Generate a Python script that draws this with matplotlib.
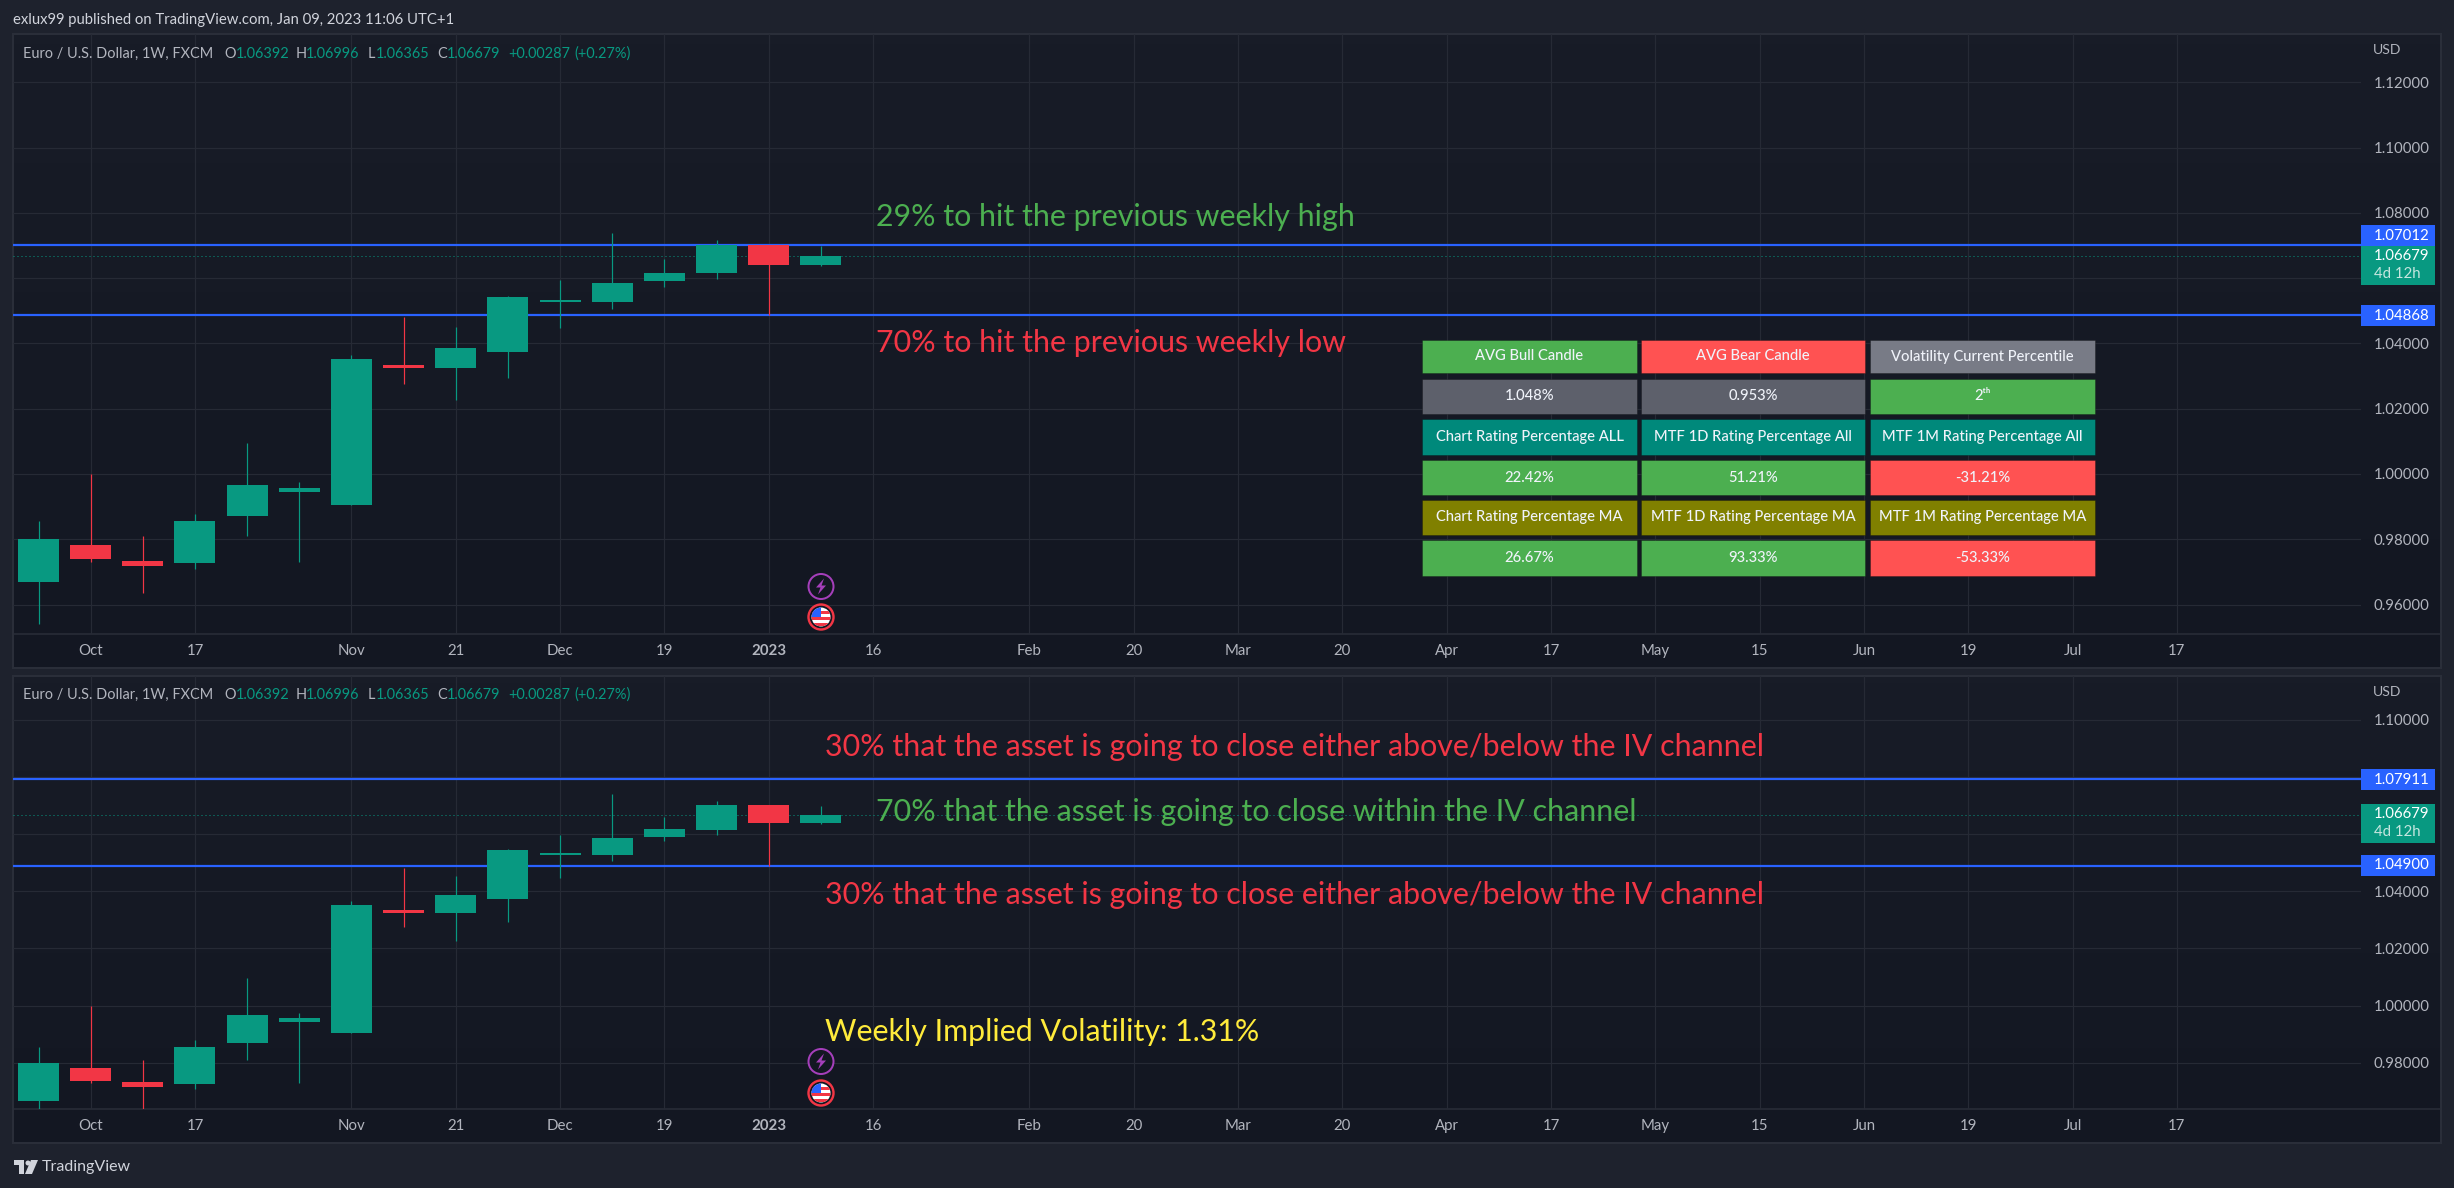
import numpy as np #For arrays
import matplotlib
matplotlib.use("Agg")
import matplotlib.pyplot as plt #For plotting
from matplotlib.patches import Rectangle, Circle, Polygon

W, H = 2454, 1188 #Output size in pixels
PX = 0.72 #Points per pixel at dpi 100

#Weekly candles
opens = [0.96684, 0.97835, 0.97347, 0.97260, 0.98699, 0.99437, 0.99037, 1.03353,
         1.03241, 1.03729, 1.05268, 1.05268, 1.05906, 1.06156, 1.07007, 1.06392]
closes = [0.98011, 0.97385, 0.97172, 0.98574, 0.99675, 0.99575, 1.03529, 1.03241,
          1.03866, 1.05430, 1.05343, 1.05868, 1.06169, 1.07007, 1.06394, 1.06679]
highs = [0.98574, 1.00000, 0.98111, 0.98786, 1.00963, 0.99762, 1.03654, 1.04817,
         1.04517, 1.05468, 1.05956, 1.07395, 1.06594, 1.07157, 1.07012, 1.06996]
lows = [0.95395, 0.97297, 0.96346, 0.97085, 0.98086, 0.97310, 0.99037, 1.02753,
        1.02265, 1.02928, 1.04467, 1.05068, 1.05743, 1.05968, 1.04868, 1.06365]

#Time axis
time_ticks = [1, 3, 6, 8, 10, 12, 14, 16, 19, 21, 23, 25, 27, 29, 31, 33, 35, 37, 39, 41]
time_labels = ["Oct", "17", "Nov", "21", "Dec", "19", "2023", "16", "Feb", "20", "Mar", "20",
               "Apr", "17", "May", "15", "Jun", "19", "Jul", "17"]

#Price axes, empty labels are hidden behind the price boxes
price_ticks_top = [0.96, 0.98, 1.00, 1.02, 1.04, 1.06, 1.08, 1.10, 1.12]
price_labels_top = ["0.96000", "0.98000", "1.00000", "1.02000", "1.04000", "", "1.08000", "1.10000", "1.12000"]
price_ticks_bot = [0.98, 1.00, 1.02, 1.04, 1.06, 1.08, 1.10]
price_labels_bot = ["0.98000", "1.00000", "1.02000", "1.04000", "", "", "1.10000"]
levels_top = [1.07012, 1.04868]
levels_bot = [1.07911, 1.04900]
last_price = 1.06679

#Table
table_text = [["AVG Bull Candle", "AVG Bear Candle", "Volatility Current Percentile"],
              ["1.048%", "0.953%", "2ᵗʰ"],
              ["Chart Rating Percentage ALL", "MTF 1D Rating Percentage All", "MTF 1M Rating Percentage All"],
              ["22.42%", "51.21%", "-31.21%"],
              ["Chart Rating Percentage MA", "MTF 1D Rating Percentage MA", "MTF 1M Rating Percentage MA"],
              ["26.67%", "93.33%", "-53.33%"]]
table_colors = [["#4caf50", "#ff5252", "#787b86"],
                ["#5d606b", "#5d606b", "#4caf50"],
                ["#00897b", "#00897b", "#00897b"],
                ["#4caf50", "#4caf50", "#ff5252"],
                ["#808000", "#808000", "#808000"],
                ["#4caf50", "#4caf50", "#ff5252"]]
col_edges = [(1422, 1637), (1641, 1865), (1870, 2095)]
row_edges = [(340, 373), (379, 414), (419, 455), (460, 495), (500, 535), (540, 576)]

#Colours
BG = "#1e222d"
BORDER = "#2a2e39"
GRID = "#262a35"
UP = "#089981"
DOWN = "#f23645"
BLUE = "#2962ff"
GRAY = "#b2b5be"
FONT = ["Lato", "DejaVu Sans"]

plt.rcParams["font.family"] = FONT
fig = plt.figure(figsize=(W / 100, H / 100), dpi=100, facecolor=BG)

#Background layer in pixels
back = fig.add_axes([0, 0, 1, 1], zorder=0)
back.set_xlim(0, W)
back.set_ylim(H, 0)
back.axis("off")
for y0, y1, yline in [(34, 668, 634), (676, 1143, 1109)]:
    shade = np.linspace(0, 1, 64).reshape(-1, 1)
    back.imshow(shade, extent=(13, 2441, y1, y0), aspect="auto",
                cmap=matplotlib.colors.LinearSegmentedColormap.from_list("pane", ["#181c27", "#131722"]))
    back.add_patch(Rectangle((13, y0), 2428, y1 - y0, fill=False, ec=BORDER, lw=2 * PX))
    back.plot([13, 2441], [yline, yline], color=BORDER, lw=1.5 * PX)
back.set_xlim(0, W)
back.set_ylim(H, 0)


def pane(x0, y0, x1, y1):
    return fig.add_axes([x0 / W, 1 - y1 / H, (x1 - x0) / W, (y1 - y0) / H], zorder=1)


def draw_pane(ax, ylim, ticks, labels, levels):
    ax.patch.set_visible(False)
    for s in ax.spines.values():
        s.set_visible(False)
    ax.set_xlim(-0.489, 44.53)
    ax.set_ylim(*ylim)
    ax.yaxis.tick_right()
    ax.set_yticks(ticks, labels)
    ax.set_xticks(time_ticks, time_labels)
    ax.grid(color=GRID, lw=1.2 * PX)
    ax.set_axisbelow(True)
    ax.tick_params(axis="y", length=0, pad=13 * PX, labelsize=15 * PX, labelcolor=GRAY)
    ax.tick_params(axis="x", length=0, pad=10 * PX, labelsize=15 * PX, labelcolor=GRAY)
    ax.get_xticklabels()[time_labels.index("2023")].set_fontweight("bold")
    #Levels and last price sit under the candles
    ax.hlines(levels, -1, 45, color=BLUE, lw=2.2 * PX, zorder=2)
    ax.axhline(last_price, color=UP, lw=1 * PX, ls=(0, (1, 3)), zorder=2)
    for i in range(len(opens)):
        color = UP if closes[i] >= opens[i] else DOWN
        bottom = min(opens[i], closes[i])
        ax.vlines(i, lows[i], highs[i], color=color, lw=1.2 * PX, zorder=3)
        ax.bar(i, abs(closes[i] - opens[i]), bottom=bottom, width=0.786, color=color, zorder=4)


ax1 = pane(13, 34, 2361, 634)
draw_pane(ax1, (0.95096, 1.13484), price_ticks_top, price_labels_top, levels_top)
ax2 = pane(13, 676, 2361, 1109)
draw_pane(ax2, (0.9639, 1.11524), price_ticks_bot, price_labels_bot, levels_bot)

#Overlay layer in pixels for text, boxes and icons
top = fig.add_axes([0, 0, 1, 1], zorder=2)
top.set_xlim(0, W)
top.set_ylim(H, 0)
top.axis("off")


def label(x, y, s, px, color, ha="left", **kw):
    top.text(x, y, s, fontsize=px * PX, color=color, ha=ha, va="center", **kw)


label(13, 20, "exlux99 published on TradingView.com, Jan 09, 2023 11:06 UTC+1", 14.9, "#d1d4dc")

#Legend pieces in both panes
legend_parts = [(23, "Euro / U.S. Dollar, 1W, FXCM", GRAY), (224, "O", GRAY), (236, "1.06392", UP),
                (296, "H", GRAY), (306, "1.06996", UP), (368, "L", GRAY), (376, "1.06365", UP),
                (437, "C", GRAY), (447, "1.06679", UP), (508, "+0.00287", UP), (574, "(+0.27%)", UP)]
for y in [54, 695]:
    for x, s, c in legend_parts:
        label(x, y, s, 14.5, c)

label(2373, 50, "USD", 14, GRAY)
label(2373, 692, "USD", 14, GRAY)


#Price boxes on the right
def price_box(y0, y1, s, color, extra=None):
    top.add_patch(Rectangle((2361, y0), 74, y1 - y0, fc=color, ec="none"))
    if extra:
        label(2374, y0 + 10.5, s, 15, "white")
        label(2374, y1 - 10.5, extra, 15, "#c5e6df")
    else:
        label(2374, (y0 + y1) / 2, s, 15, "white")


price_box(225, 246, "1.07012", BLUE)
price_box(246, 284.5, "1.06679", UP, "4d 12h")
price_box(305, 326, "1.04868", BLUE)
price_box(769, 790, "1.07911", BLUE)
price_box(804, 843, "1.06679", UP, "4d 12h")
price_box(855, 875.5, "1.04900", BLUE)

#Text notes on the chart
NOTE = 30.4
label(876, 217, "29% to hit the previous weekly high", NOTE, "#4caf50")
label(876, 343, "70% to hit the previous weekly low", NOTE, DOWN)
label(825, 747, "30% that the asset is going to close either above/below the IV channel", NOTE, DOWN)
label(876, 812, "70% that the asset is going to close within the IV channel", NOTE, "#4caf50")
label(825, 895, "30% that the asset is going to close either above/below the IV channel", NOTE, DOWN)
label(825, 1032, "Weekly Implied Volatility: 1.31%", NOTE, "#ffeb3b")

#Table cells
for r, (y0, y1) in enumerate(row_edges):
    for c, (x0, x1) in enumerate(col_edges):
        top.add_patch(Rectangle((x0, y0), x1 - x0, y1 - y0, fc=table_colors[r][c], ec="#00000040", lw=1 * PX))
        label((x0 + x1) / 2, (y0 + y1) / 2, table_text[r][c], 14.8, "#f0f3fa", ha="center", fontweight="medium")


#Event icons above the last candle
def icons(y_bolt, y_flag):
    cx = 821
    top.add_patch(Circle((cx, y_bolt), 12.5, fc="#131722", ec="#a53fbb", lw=2 * PX))
    top.add_patch(Polygon([(cx + 3, y_bolt - 8), (cx - 5, y_bolt + 1), (cx - 0.5, y_bolt + 1),
                           (cx - 3, y_bolt + 8), (cx + 5, y_bolt - 1), (cx + 0.5, y_bolt - 1)],
                          fc="#a53fbb", ec="none"))
    disc = Circle((cx, y_flag), 9.5, fc="white", ec="none")
    top.add_patch(disc)
    for k in range(3):
        stripe = Rectangle((cx - 10, y_flag - 2 + k * 6 - 4), 20, 3, fc="#f23645", ec="none")
        top.add_patch(stripe)
        stripe.set_clip_path(disc)
    canton = Rectangle((cx - 10, y_flag - 10), 10, 10, fc="#2962ff", ec="none")
    top.add_patch(canton)
    canton.set_clip_path(disc)
    top.add_patch(Circle((cx, y_flag), 12.5, fill=False, ec="#f23645", lw=2.4 * PX))


icons(586.5, 617)
icons(1061.5, 1093)

#TradingView logo
top.add_patch(Polygon([(14, 1160), (24, 1160), (24, 1174), (19, 1174), (19, 1165), (14, 1165)], fc="#d1d4dc", ec="none"))
top.add_patch(Circle((28, 1163), 2.5, fc="#d1d4dc", ec="none"))
top.add_patch(Polygon([(31, 1160), (38, 1160), (32, 1174), (25, 1174)], fc="#d1d4dc", ec="none"))
label(42, 1167, "TradingView", 16, "#d1d4dc")

fig.savefig("out.png", dpi=100, facecolor=BG)
